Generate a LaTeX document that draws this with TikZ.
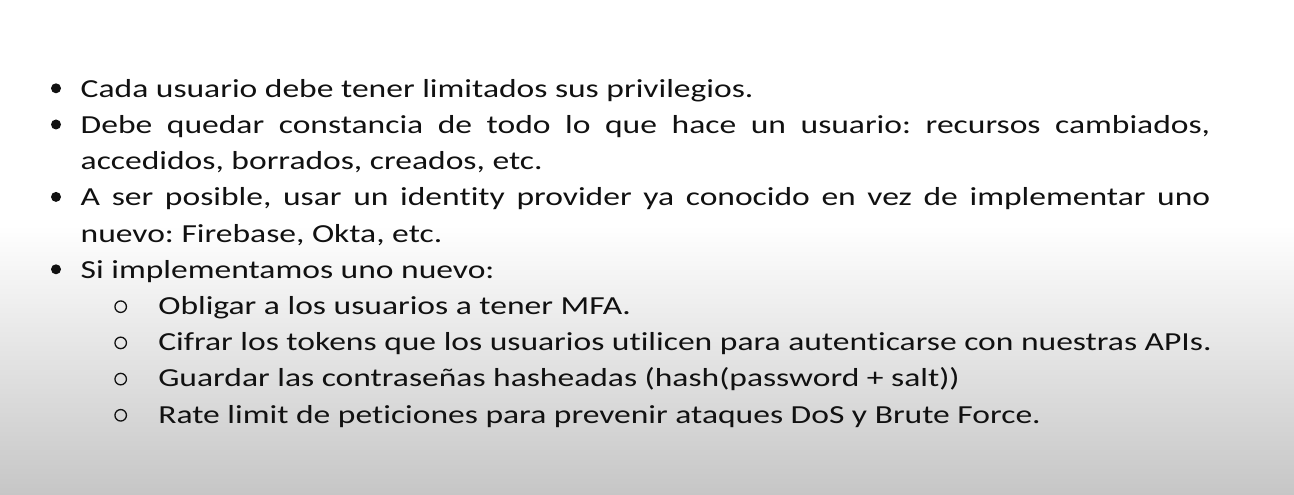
\documentclass[tikz,border=0pt]{standalone}
\usepackage{fontspec}
\setmainfont{Carlito}[Ligatures={NoCommon}]
\definecolor{bgbot}{HTML}{C6C6C6}
\definecolor{txt}{HTML}{111111}
\newcommand{\wide}[1]{\scalebox{1.29}[1]{#1}}
\newcommand{\jline}[1]{\scalebox{1.29}[1]{\hbox to 875.6bp{#1}}}
\begin{document}
\begin{tikzpicture}[x=1bp,y=-1bp,
  line/.style={anchor=base west,inner sep=0pt,outer sep=0pt,text=txt,font=\fontsize{26bp}{36bp}\selectfont\frenchspacing},
  dot/.style={circle,fill=txt,minimum size=10bp,inner sep=0pt},
  ring/.style={circle,draw=txt,line width=1.3bp,minimum size=11.5bp,inner sep=0pt}]
\useasboundingbox (0,0) rectangle (1294,495);
\fill[white] (0,0) rectangle (1294,226);
\shade[top color=white,bottom color=bgbot] (0,225) rectangle (1294,495);
% main bullets
\node[dot] (b1) at (56,88.3) {};
\node[dot] (b2) at (56,124.5) {};
\node[dot] (b3) at (56,196.9) {};
\node[dot] (b4) at (56,269.3) {};
% sub bullets
\node[ring] (s1) at (120.7,306.7) {};
\node[ring] (s2) at (120.7,342.9) {};
\node[ring] (s3) at (120.7,379.1) {};
\node[ring] (s4) at (120.7,415.3) {};
% lines
\node[line] (l1) at (80.7,97.3) {\wide{Cada usuario debe tener limitados sus privilegios.}};
\node[line] (l2) at (80.7,133.5) {\jline{Debe quedar constancia de todo lo que hace un usuario: recursos cambiados,}};
\node[line] (l3) at (80.7,169.7) {\wide{accedidos, borrados, creados, etc.}};
\node[line] (l4) at (80.7,205.9) {\jline{A ser posible, usar un identity provider ya conocido en vez de implementar uno}};
\node[line] (l5) at (80.7,242.1) {\wide{nuevo: Firebase, Okta, etc.}};
\node[line] (l6) at (80.7,278.3) {\wide{Si implementamos uno nuevo:}};
\node[line] (l7) at (158.3,314.5) {\wide{Obligar a los usuarios a tener MFA.}};
\node[line] (l8) at (158.3,350.7) {\wide{Cifrar los tokens que los usuarios utilicen para autenticarse con nuestras APIs.}};
\node[line] (l9) at (158.3,386.9) {\wide{Guardar las contraseñas hasheadas (hash(password + salt))}};
\node[line] (l10) at (158.3,423.1) {\wide{Rate limit de peticiones para prevenir ataques DoS y Brute Force.}};
\end{tikzpicture}
\end{document}
